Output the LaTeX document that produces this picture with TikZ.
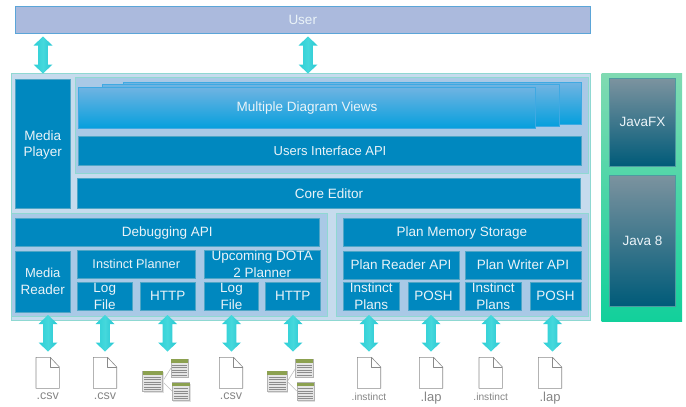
\documentclass[tikz,border=0pt]{standalone}
\usepackage{fontspec}
\setmainfont{Liberation Sans}
\usetikzlibrary{calc}
\definecolor{boxblue}{HTML}{0088BF}
\definecolor{boxedge}{HTML}{4FA6C6}
\definecolor{userfill}{HTML}{ABBADD}
\definecolor{useredge}{HTML}{5BA5D8}
\definecolor{outerfill}{HTML}{C6DBED}
\definecolor{groupfill}{HTML}{A9C9E6}
\definecolor{tealedge}{HTML}{8FD8D2}
\definecolor{txt}{HTML}{EAF3F8}
\definecolor{filegray}{HTML}{8A8A8A}
\definecolor{labelgray}{HTML}{858585}
\definecolor{stacktop}{HTML}{70B4E2}
\definecolor{stackbot}{HTML}{069FDD}
\definecolor{stackedge}{HTML}{3FA9E2}
\definecolor{slatetop}{HTML}{7C939F}
\definecolor{slatebot}{HTML}{005B79}
\definecolor{slateedge}{HTML}{4E9AA0}
\definecolor{greentop}{HTML}{80DAB2}
\definecolor{greenbot}{HTML}{12D09B}
\definecolor{arrowleft}{HTML}{2CCFD6}
\definecolor{arrowmid}{HTML}{45D8DC}
\definecolor{arrowright}{HTML}{26C6D2}
\definecolor{HdrGreen}{HTML}{8CA150}
\tikzset{
  x=1pt,y=-1pt,
  every node/.style={inner sep=0pt,outer sep=0pt,align=center,text=txt,text depth=0pt,
    font=\fontsize{13.5}{16.5}\selectfont},
  boxbase/.style={minimum width=\bw pt,minimum height=\bh pt},
  blue box/.style={boxbase,fill=boxblue,draw=boxedge,line width=.5pt},
  group box/.style={boxbase,fill=groupfill,draw=tealedge,line width=.6pt},
  stack box/.style={boxbase,top color=stacktop,bottom color=stackbot,draw=stackedge,line width=.6pt},
  platform box/.style={boxbase,top color=slatetop,bottom color=slatebot,draw=slateedge,line width=.5pt},
  green box/.style={boxbase,top color=greentop,bottom color=greenbot},
  user box/.style={boxbase,fill=userfill,draw=useredge,line width=.7pt},
  outer box/.style={boxbase,fill=outerfill,draw=tealedge,line width=.6pt},
  block arrow/.style={left color=arrowleft,right color=arrowright,middle color=arrowmid,draw=none},
  file shape/.style={fill=white,draw=filegray,line width=.6pt,line join=round},
  file label/.style={text=labelgray,font=\fontsize{#1}{#1}\selectfont},
}
% name, x1, y1, x2, y2, style, text
\newcommand{\bx}[7]{%
  \pgfmathsetmacro{\bw}{#4-#2}\pgfmathsetmacro{\bh}{#5-#3}%
  \pgfmathsetmacro{\bcx}{(#2+#4)/2}\pgfmathsetmacro{\bcy}{(#3+#5)/2}%
  \node[#6] (#1) at (\bcx,\bcy) {#7};}
% name, x, ytop, ybottom
\newcommand{\barrow}[4]{%
  \coordinate (#1t) at (#2,#3);\coordinate (#1b) at (#2,#4);
  \path[block arrow] (#1t) -- ++(9.5,9) -- ++(-4.7,0) -- ($(#1b)+(4.8,-9)$) -- ++(4.7,0)
    -- (#1b) -- ++(-9.5,-9) -- ++(4.7,0) -- ($(#1t)+(-4.8,9)$) -- ++(-4.7,0) -- cycle;}
% x centre of a file icon, label size, label
\newcommand{\fileicon}[3]{%
  \draw[file shape] (#1-11.7,357.3) -- (#1+2.5,357.3) -- (#1+11.7,367) -- (#1+11.7,388.3) -- (#1-11.7,388.3) -- cycle;
  \draw[filegray,line width=.5pt,line join=round] (#1+2.5,357.3) -- (#1+2.5,367) -- (#1+11.7,367);
  \node[file label=#2] at (#1,396.5) {#3};}
% one table: x, y, w, h
\newcommand{\tbl}[4]{%
  \fill[black!12] (#1+1,#2+1) rectangle ++(#3,#4);
  \fill[black!10] (#1,#2) rectangle ++(#3,#4);
  \draw[black!30,line width=.3pt] (#1,#2) rectangle ++(#3,#4);
  \fill[HdrGreen] (#1,#2) rectangle ++(#3,3.5);
  \foreach \k in {6,8.5,11,13.5,16,18.5}{
    \pgfmathparse{\k<#4-1?1:0}\ifnum\pgfmathresult>0
      \draw[black!45,line width=.5pt] (#1+1.5,#2+\k) -- ++(#3-3,0);\fi}}
% left x of a table cluster
\newcommand{\tblgroup}[1]{%
  \draw[black!25,line width=.6pt] (#1+20,381.5) -- (#1+28.5,368);
  \draw[black!25,line width=.6pt] (#1+20,381.5) -- (#1+29.5,391);
  \tbl{#1}{371}{20}{20.5}
  \tbl{#1+28.3}{359}{17.5}{18}
  \tbl{#1+29.5}{382.5}{17.5}{18}}
\begin{document}
\begin{tikzpicture}
\useasboundingbox (0,0) rectangle (686,407);
% top level
\bx{user}{15.5}{6.5}{590}{33.5}{user box}{User}
\bx{outer}{11}{73.5}{590.5}{320.5}{outer box}{}
% platform
\bx{platform}{601.5}{73.5}{682}{321.5}{green box}{}
\bx{javafx}{609.5}{78.5}{675.5}{166}{platform box}{JavaFX}
\bx{java}{609.5}{175}{675.5}{306}{platform box}{Java 8}
% views
\bx{viewgroup}{75}{77.5}{588}{173}{group box}{}
\bx{viewc}{123.5}{82.5}{581}{124}{stack box}{}
\bx{viewb}{102.5}{84.5}{559}{126}{stack box}{}
\bx{viewa}{78.5}{87}{535.5}{128}{stack box}{}
\node (viewlabel) at (307,107) {Multiple Diagram Views};
\bx{uiapi}{78.5}{136.5}{581.5}{165}{blue box}{\fontsize{13}{16}\selectfont Users Interface API}
\bx{core}{77.5}{178.5}{580.5}{208.5}{blue box}{Core Editor}
\bx{player}{15.5}{79}{70}{208.5}{blue box}{Media\\Player}
% debugging group
\bx{debuggroup}{11}{213.5}{327}{316}{group box}{}
\bx{debugapi}{15.5}{218}{319}{246}{blue box}{Debugging API}
\bx{reader}{15.5}{251}{70}{312}{blue box}{\fontsize{13}{15}\selectfont Media\\Reader}
\bx{instinct}{77.5}{250}{195}{278}{blue box}{\fontsize{12.7}{16}\selectfont Instinct Planner}
\bx{dota}{204.5}{250}{320}{278}{blue box}{Upcoming DOTA\\2 Planner}
\bx{loga}{77.5}{282.5}{132}{310}{blue box}{Log\\File}
\bx{httpa}{140.5}{282.5}{195}{310}{blue box}{HTTP}
\bx{logb}{204.5}{282.5}{258.5}{310}{blue box}{Log\\File}
\bx{httpb}{265.5}{282.5}{320}{310}{blue box}{HTTP}
% plan group
\bx{plangroup}{336}{213.5}{588}{316.5}{group box}{}
\bx{memory}{343}{218}{581}{246}{blue box}{Plan Memory Storage}
\bx{planreader}{343}{251}{459}{279}{blue box}{Plan Reader API}
\bx{planwriter}{465}{251}{581}{279}{blue box}{Plan Writer API}
\bx{plansa}{343}{282.5}{399.5}{310}{blue box}{Instinct\\Plans}
\bx{posha}{408}{282.5}{459}{310}{blue box}{POSH}
\bx{plansb}{465}{282.5}{521.5}{310}{blue box}{Instinct\\Plans}
\bx{poshb}{530}{282.5}{581}{310}{blue box}{POSH}
% arrows
\barrow{ua}{43}{36.5}{73.5}
\barrow{ub}{308}{36.5}{73.5}
\barrow{da}{48}{315}{351.5}
\barrow{db}{105}{315}{351.5}
\barrow{dc}{167.5}{315}{351.5}
\barrow{dd}{231.5}{315}{351.5}
\barrow{de}{293}{315}{351.5}
\barrow{df}{369}{315}{351.5}
\barrow{dg}{431}{315}{351.5}
\barrow{dh}{491}{315}{351.5}
\barrow{di}{552.5}{315}{351.5}
% data sources
\fileicon{47.7}{12.5}{.csv}
\fileicon{105}{12.5}{.csv}
\tblgroup{142.5}
\fileicon{231}{12.5}{.csv}
\tblgroup{267.3}
\fileicon{369}{10.2}{.instinct}
\fileicon{431}{13}{.lap}
\fileicon{490.7}{10.2}{.instinct}
\fileicon{550}{13}{.lap}
\end{tikzpicture}
\end{document}
